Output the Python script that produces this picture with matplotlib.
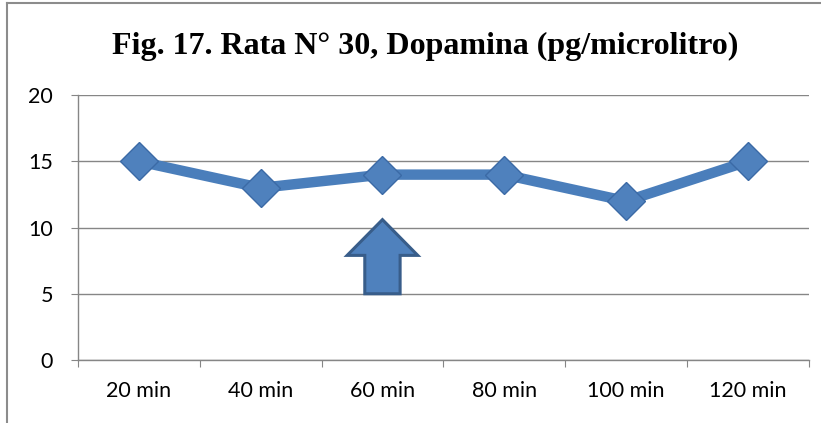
import matplotlib.pyplot as plt
from matplotlib.patches import Polygon
from matplotlib.lines import Line2D

# Data
categories = ['20 min', '40 min', '60 min', '80 min', '100 min', '120 min']
dopamina = [15, 13, 14, 14, 12, 15]
yticks = [0, 5, 10, 15, 20]
title = 'Fig. 17. Rata N\u00b0 30, Dopamina (pg/microlitro)'

# Arrow marking the 60 min sample
arrow_cat = 2
arrow_base, arrow_neck, arrow_tip = 5.0, 7.9, 10.6
shaft_hw, head_hw = 0.145, 0.29

line_blue = '#4A7EBB'
grid_gray = '#868686'


def main():
    fig = plt.figure(figsize=(8.21, 4.23), dpi=100)
    ax = fig.add_axes([0.095, 0.149, 0.890, 0.626])

    x = list(range(len(categories)))
    ax.plot(x, dopamina, color=line_blue, linewidth=7.5, solid_joinstyle='round',
            marker='D', markersize=19, markerfacecolor='#4F81BD',
            markeredgecolor='#3B6AA6', markeredgewidth=1, zorder=4)

    # Arrow pointing up at 60 min
    cx = arrow_cat
    pts = [(cx - shaft_hw, arrow_base), (cx + shaft_hw, arrow_base),
           (cx + shaft_hw, arrow_neck), (cx + head_hw, arrow_neck),
           (cx, arrow_tip), (cx - head_hw, arrow_neck),
           (cx - shaft_hw, arrow_neck)]
    ax.add_patch(Polygon(pts, closed=True, facecolor='#4F81BD',
                         edgecolor='#385D8A', linewidth=2.2, zorder=3))

    ax.set_xlim(-0.5, len(categories) - 0.5)
    ax.set_ylim(0, 20)
    ax.set_yticks(yticks)
    ax.yaxis.grid(True, color=grid_gray, linewidth=1)
    ax.set_axisbelow(True)

    # ticks between categories, labels at centres
    ax.set_xticks([i - 0.5 for i in range(len(categories) + 1)])
    ax.set_xticklabels([])
    ax.set_xticks(x, minor=True)
    ax.set_xticklabels(categories, minor=True)
    ax.tick_params(axis='x', which='major', length=5, color=grid_gray, direction='out')
    ax.tick_params(axis='x', which='minor', length=0, pad=15, labelsize=15.5)
    ax.tick_params(axis='y', length=5, color=grid_gray, pad=13, labelsize=15.5)
    for lab in ax.get_xticklabels(minor=True) + ax.get_yticklabels():
        lab.set_fontfamily('Lato')

    for s in ['top', 'right']:
        ax.spines[s].set_visible(False)
    for s in ['left', 'bottom']:
        ax.spines[s].set_color(grid_gray)
        ax.spines[s].set_linewidth(1)

    fig.text(0.518, 0.889, title, ha='center', va='center', fontsize=23,
             fontweight='bold', fontfamily='Liberation Serif')

    # chart border (partially visible)
    fig.add_artist(Line2D([0.0085, 0.0085], [0, 0.993], color='#8C8C8C', linewidth=1.5))
    fig.add_artist(Line2D([0.0085, 1], [0.993, 0.993], color='#8C8C8C', linewidth=1.5))

    fig.savefig('out.png', dpi=100)


main()
